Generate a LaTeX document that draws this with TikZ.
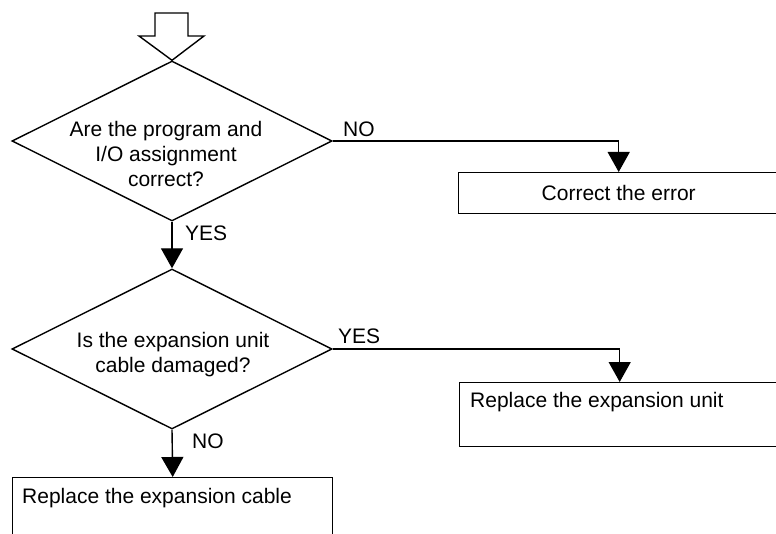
\documentclass[tikz,border=0pt]{standalone}
\usepackage{fontspec}
\setmainfont{Liberation Sans}
\usetikzlibrary{shapes.geometric,arrows.meta}
\begin{document}
\begin{tikzpicture}[x=1pt,y=-1pt,
  every node/.style={font=\fontsize{21pt}{25pt}\selectfont},
  ln/.style={line width=1.4pt},
  dia/.style={draw, line width=1.4pt, diamond, aspect=2, minimum width=320pt, minimum height=160pt, inner sep=0pt},
  boxnode/.style={draw, line width=1.4pt, rectangle, anchor=north west, minimum width=320pt, inner sep=0pt},
  txt/.style={inner sep=0pt, align=center},
  lbl/.style={inner sep=0pt, anchor=west},
  arr/.style={ln, -{Triangle[length=20pt,width=22pt]}}
]
\useasboundingbox (0,0) rectangle (776,534);
\clip (0,0) rectangle (776,534);

% decision 1
\node[dia] (d1) at (172,141) {};
\node[txt] (t1) at (166,154) {Are the program and\\I/O assignment\\correct?};

% hollow entry arrow
\draw[ln, line join=miter] (d1.north) -- (139,36) -- (155,36) -- (155,13) -- (188,13) -- (188,36) -- (204,36) -- cycle;

% box 1
\node[boxnode, minimum height=41pt] (b1) at (458,172) {};
\node[txt] (bt1) at (b1.center) {Correct the error};
\draw[arr] (d1.east) -| (b1.north);
\node[lbl] (no1) at (343,129) {NO};

% decision 2
\node[dia] (d2) at (172,349) {};
\node[txt] (t2) at (173,355) {Is the expansion unit\\cable damaged?};
\draw[arr] (d1.south) -- (d2.north);
\node[lbl] (yes1) at (185,233) {YES};

% box 2
\node[boxnode, minimum height=64pt] (b2) at (459,382) {};
\node[lbl] (bt2) at (470,402) {Replace the expansion unit};
\draw[arr] (d2.east) -| (b2.north);
\node[lbl] (yes2) at (338,336) {YES};

% box 3
\node[boxnode, minimum height=64pt] (b3) at (12,477) {};
\node[lbl] (bt3) at (22,498) {Replace the expansion cable};
\draw[arr] (d2.south) -- (b3.north);
\node[lbl] (no2) at (192,441) {NO};
\end{tikzpicture}
\end{document}
